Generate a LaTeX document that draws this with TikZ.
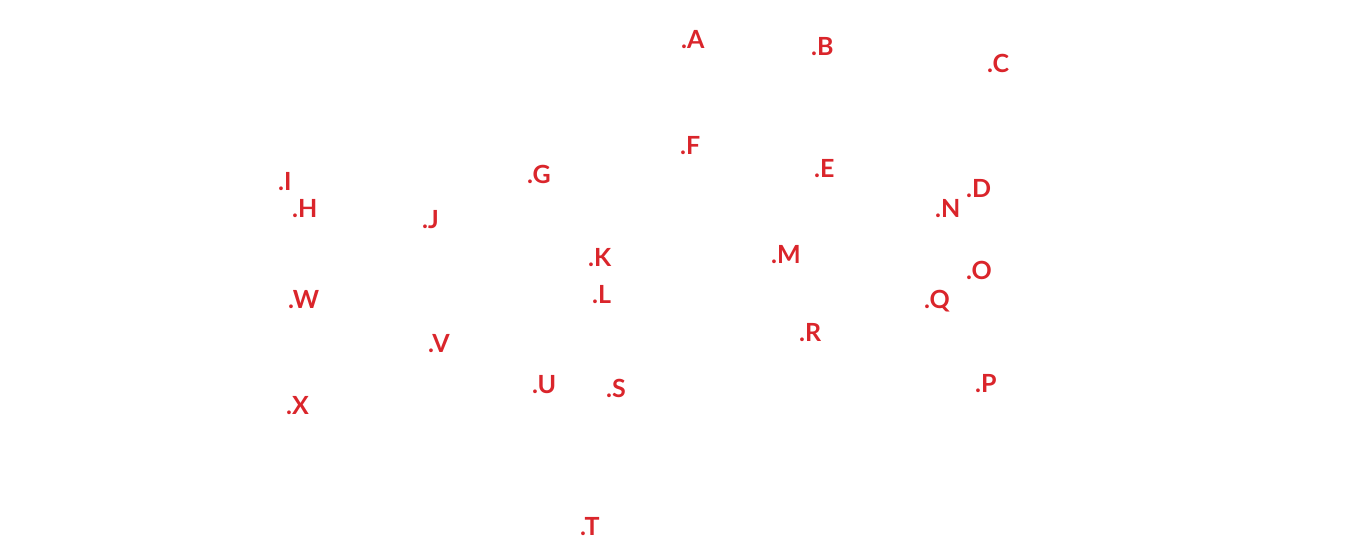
\documentclass[tikz,border=0pt]{standalone}
\usepackage{fontspec}
\setmainfont{Lato}
\usepackage{tikz}
\definecolor{pinred}{RGB}{218,37,43}

\begin{document}
\begin{tikzpicture}[x=1pt,y=-1pt,
point label/.style={anchor=base west,inner sep=0pt,text=pinred,font=\fontsize{25}{25}\selectfont\bfseries}]
\useasboundingbox (0,0) rectangle (1360,558);
\node[point label] (A) at (681,48) {.A};
\node[point label] (B) at (811,55) {.B};
\node[point label] (C) at (987,72) {.C};
\node[point label] (F) at (680,154) {.F};
\node[point label] (E) at (814,177) {.E};
\node[point label] (G) at (527,183) {.G};
\node[point label] (I) at (278,190) {.I};
\node[point label] (H) at (292,217) {.H};
\node[point label] (D) at (966,197) {.D};
\node[point label] (N) at (935,217) {.N};
\node[point label] (J) at (422,228) {.J};
\node[point label] (K) at (588,266) {.K};
\node[point label] (M) at (771,263) {.M};
\node[point label] (O) at (966,279) {.O};
\node[point label] (L) at (592,303) {.L};
\node[point label] (W) at (288,308) {.W};
\node[point label] (Q) at (924,308) {.Q};
\node[point label] (R) at (799,341) {.R};
\node[point label] (V) at (428,352) {.V};
\node[point label] (U) at (532,393) {.U};
\node[point label] (S) at (606,397) {.S};
\node[point label] (P) at (975,392) {.P};
\node[point label] (X) at (286,414) {.X};
\node[point label] (T) at (580,535) {.T};
\end{tikzpicture}
\end{document}
